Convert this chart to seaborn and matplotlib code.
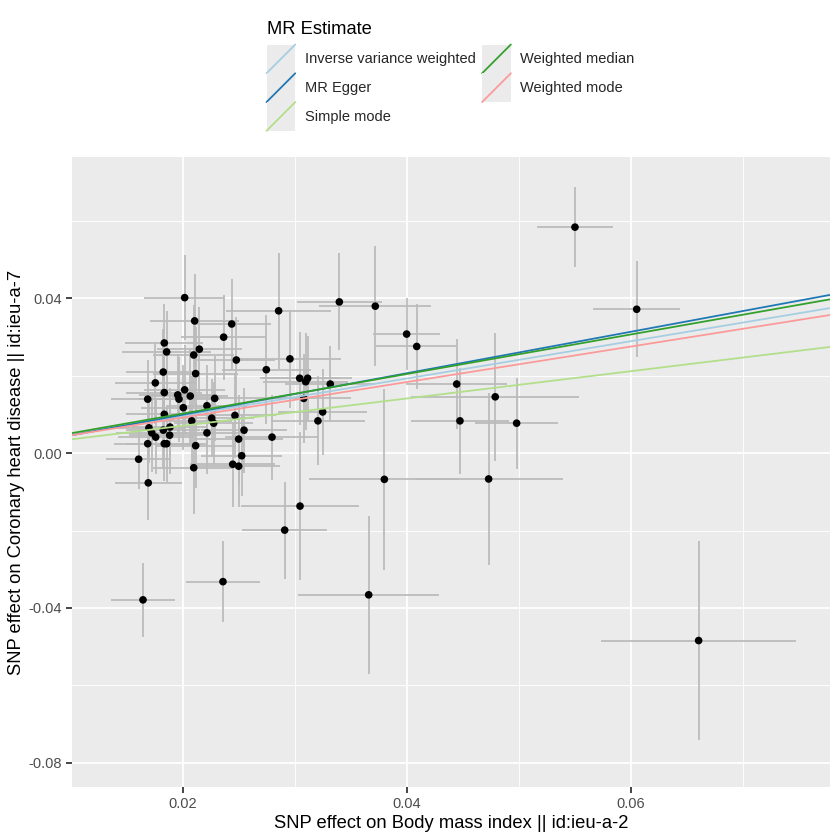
import numpy as np
import pandas as pd
import seaborn as sns
import matplotlib
matplotlib.use("Agg")
import matplotlib.pyplot as plt
from matplotlib.lines import Line2D
from matplotlib.patches import Rectangle
from matplotlib.legend_handler import HandlerBase
from matplotlib.ticker import FixedLocator

# SNP effects on exposure (Body mass index) and outcome (Coronary heart disease)
beta_exposure = [
    0.02015, 0.02104, 0.02435, 0.02363, 0.02854, 0.03396, 0.03717, 0.03997, 0.04087, 0.01833,
    0.01854, 0.02146, 0.02096, 0.02476, 0.02955, 0.02744, 0.01824, 0.02113, 0.01753, 0.03042,
    0.03113, 0.03096, 0.03315, 0.04444, 0.01833, 0.02015, 0.01953, 0.01964, 0.02065, 0.02283,
    0.01685, 0.03078, 0.02214, 0.02003, 0.01833, 0.02464, 0.03247, 0.02078, 0.02256, 0.02274,
    0.03205, 0.04473, 0.01696, 0.01884, 0.01824, 0.01721, 0.01756, 0.01881, 0.02214, 0.02545,
    0.02497, 0.02795, 0.01685, 0.01833, 0.01854, 0.02113, 0.01604, 0.02524, 0.02444, 0.02497,
    0.02096, 0.01690, 0.03798, 0.03045, 0.02908, 0.05500, 0.06051, 0.04788, 0.04979, 0.04729,
    0.02357, 0.01643, 0.03658, 0.06604,
]
beta_outcome = [
    0.0401, 0.0341, 0.0333, 0.0299, 0.0367, 0.0390, 0.0379, 0.0307, 0.0275, 0.0284,
    0.0261, 0.0268, 0.0253, 0.0240, 0.0243, 0.0215, 0.0209, 0.0205, 0.0181, 0.0193,
    0.0193, 0.0184, 0.0178, 0.0178, 0.0156, 0.0163, 0.0150, 0.0139, 0.0147, 0.0141,
    0.0139, 0.0141, 0.0122, 0.0117, 0.0100, 0.0097, 0.0106, 0.0083, 0.0090, 0.0077,
    0.0083, 0.0083, 0.0065, 0.0067, 0.0059, 0.0052, 0.0041, 0.0046, 0.0052, 0.0059,
    0.0036, 0.0041, 0.0024, 0.0024, 0.0024, 0.0019, -0.0016, -0.0007, -0.0029, -0.0034,
    -0.0038, -0.0077, -0.0068, -0.0137, -0.0199, 0.0583, 0.0371, 0.0145, 0.0077, -0.0067,
    -0.0332, -0.0379, -0.0366, -0.0484,
]
se_exposure = [
    0.0036, 0.0040, 0.0035, 0.0038, 0.0047, 0.0038, 0.0050, 0.0030, 0.0036, 0.0035,
    0.0040, 0.0038, 0.0036, 0.0035, 0.0046, 0.0040, 0.0033, 0.0038, 0.0036, 0.0035,
    0.0040, 0.0038, 0.0040, 0.0045, 0.0034, 0.0036, 0.0035, 0.0037, 0.0034, 0.0038,
    0.0033, 0.0042, 0.0036, 0.0038, 0.0034, 0.0037, 0.0040, 0.0036, 0.0038, 0.0035,
    0.0042, 0.0044, 0.0030, 0.0034, 0.0033, 0.0032, 0.0034, 0.0036, 0.0036, 0.0038,
    0.0040, 0.0042, 0.0030, 0.0034, 0.0035, 0.0036, 0.0029, 0.0036, 0.0038, 0.0037,
    0.0036, 0.0030, 0.0067, 0.0053, 0.0038, 0.0034, 0.0039, 0.0075, 0.0037, 0.0066,
    0.0033, 0.0029, 0.0063, 0.0087,
]
se_outcome = [
    0.0110, 0.0120, 0.0115, 0.0110, 0.0150, 0.0125, 0.0155, 0.0094, 0.0110, 0.0100,
    0.0105, 0.0110, 0.0130, 0.0110, 0.0126, 0.0140, 0.0110, 0.0120, 0.0105, 0.0120,
    0.0110, 0.0125, 0.0097, 0.0117, 0.0110, 0.0115, 0.0105, 0.0110, 0.0120, 0.0110,
    0.0100, 0.0115, 0.0105, 0.0110, 0.0100, 0.0110, 0.0110, 0.0115, 0.0100, 0.0105,
    0.0115, 0.0137, 0.0090, 0.0100, 0.0095, 0.0100, 0.0095, 0.0100, 0.0105, 0.0110,
    0.0115, 0.0110, 0.0090, 0.0095, 0.0100, 0.0110, 0.0078, 0.0105, 0.0110, 0.0105,
    0.0120, 0.0096, 0.0233, 0.0190, 0.0125, 0.0104, 0.0124, 0.0165, 0.0117, 0.0222,
    0.0104, 0.0095, 0.0204, 0.0256,
]

# MR estimates
methods = ["Inverse variance weighted", "MR Egger", "Simple mode", "Weighted median", "Weighted mode"]
slopes = [0.481, 0.535, 0.352, 0.510, 0.458]
intercepts = [0.0, -0.0008, 0.0, 0.0, 0.0]
colours = ["#A6CEE3", "#1F78B4", "#B2DF8A", "#33A02C", "#FB9A99"]

df = pd.DataFrame({"bx": beta_exposure, "by": beta_outcome,
                   "bx_se": se_exposure, "by_se": se_outcome})

sns.set_theme(style="darkgrid", rc={
    "axes.facecolor": "#EBEBEB",
    "grid.color": "white",
    "axes.edgecolor": "none",
    "xtick.color": "#333333",
    "ytick.color": "#333333",
    "xtick.labelcolor": "#4D4D4D",
    "ytick.labelcolor": "#4D4D4D",
    "xtick.bottom": True,
    "ytick.left": True,
    "xtick.major.size": 3.6,
    "ytick.major.size": 3.6,
    "xtick.major.width": 1.07,
    "ytick.major.width": 1.07,
    "xtick.major.pad": 2.2,
    "ytick.major.pad": 2.2,
    "axes.unicode_minus": False,
})
plt.rcParams["font.family"] = ["Liberation Sans", "DejaVu Sans"]

fig = plt.figure(figsize=(7, 7), dpi=120)
ax = fig.add_axes([72 / 840, 1 - 787 / 840, (830 - 72) / 840, (787 - 157) / 840])

# error bars (grey, no caps)
ax.errorbar(df["bx"], df["by"], yerr=df["by_se"], fmt="none", ecolor="#BBBBBB",
            elinewidth=1.07, capsize=0, zorder=2)
ax.errorbar(df["bx"], df["by"], xerr=df["bx_se"], fmt="none", ecolor="#BBBBBB",
            elinewidth=1.07, capsize=0, zorder=2)
sns.scatterplot(data=df, x="bx", y="by", color="black", s=21, edgecolor="none",
                ax=ax, zorder=3)

handles = []
for m, b, a, c in zip(methods, slopes, intercepts, colours):
    ax.axline((0, a), slope=b, color=c, lw=1.07, zorder=4)
    handles.append(Line2D([], [], color=c, lw=1.07, label=m))

ax.set_xlim(0.01009, 0.07777)
ax.set_ylim(-0.0862, 0.0764)
ax.xaxis.set_major_locator(FixedLocator([0.02, 0.04, 0.06]))
ax.yaxis.set_major_locator(FixedLocator([-0.08, -0.04, 0.0, 0.04]))
ax.xaxis.set_minor_locator(FixedLocator([0.01, 0.03, 0.05, 0.07]))
ax.yaxis.set_minor_locator(FixedLocator([-0.06, -0.02, 0.02, 0.06]))
ax.set_xticklabels(["0.02", "0.04", "0.06"])
ax.set_yticklabels(["-0.08", "-0.04", "0.00", "0.04"])
ax.tick_params(axis="both", which="major", labelsize=8.8)
ax.tick_params(axis="both", which="minor", length=0)
ax.grid(which="major", color="white", lw=1.07)
ax.grid(which="minor", color="white", lw=0.53)
ax.set_axisbelow(True)
for s in ax.spines.values():
    s.set_visible(False)

ax.set_xlabel("SNP effect on Body mass index || id:ieu-a-2", fontsize=11,
              color="black", labelpad=2.5)
ax.set_ylabel("SNP effect on Coronary heart disease || id:ieu-a-7", fontsize=11,
              color="black", labelpad=2.5)


class AblineKey(HandlerBase):
    def create_artists(self, legend, orig_handle, xdescent, ydescent, width, height,
                       fontsize, trans):
        x0, y0 = -xdescent, -ydescent
        bg = Rectangle((x0, y0), width, height, facecolor="#EBEBEB",
                       edgecolor="none", transform=trans)
        ln = Line2D([x0, x0 + width], [y0, y0 + height], color=orig_handle.get_color(),
                    lw=1.07, transform=trans)
        return [bg, ln]


fig.text(267 / 840, 1 - 34.3 / 840, "MR Estimate", fontsize=11, color="black",
         ha="left", va="baseline")
leg = fig.legend(handles=handles, loc="upper left",
                 bbox_to_anchor=(266.5 / 840, 1 - 44.5 / 840), ncol=2,
                 fontsize=8.8, frameon=False, borderpad=0, borderaxespad=0,
                 handlelength=1.96, handleheight=2.644, labelspacing=0,
                 handletextpad=0.64, columnspacing=0.45,
                 handler_map={Line2D: AblineKey()})

fig.savefig("out.png", dpi=120, facecolor="white")
